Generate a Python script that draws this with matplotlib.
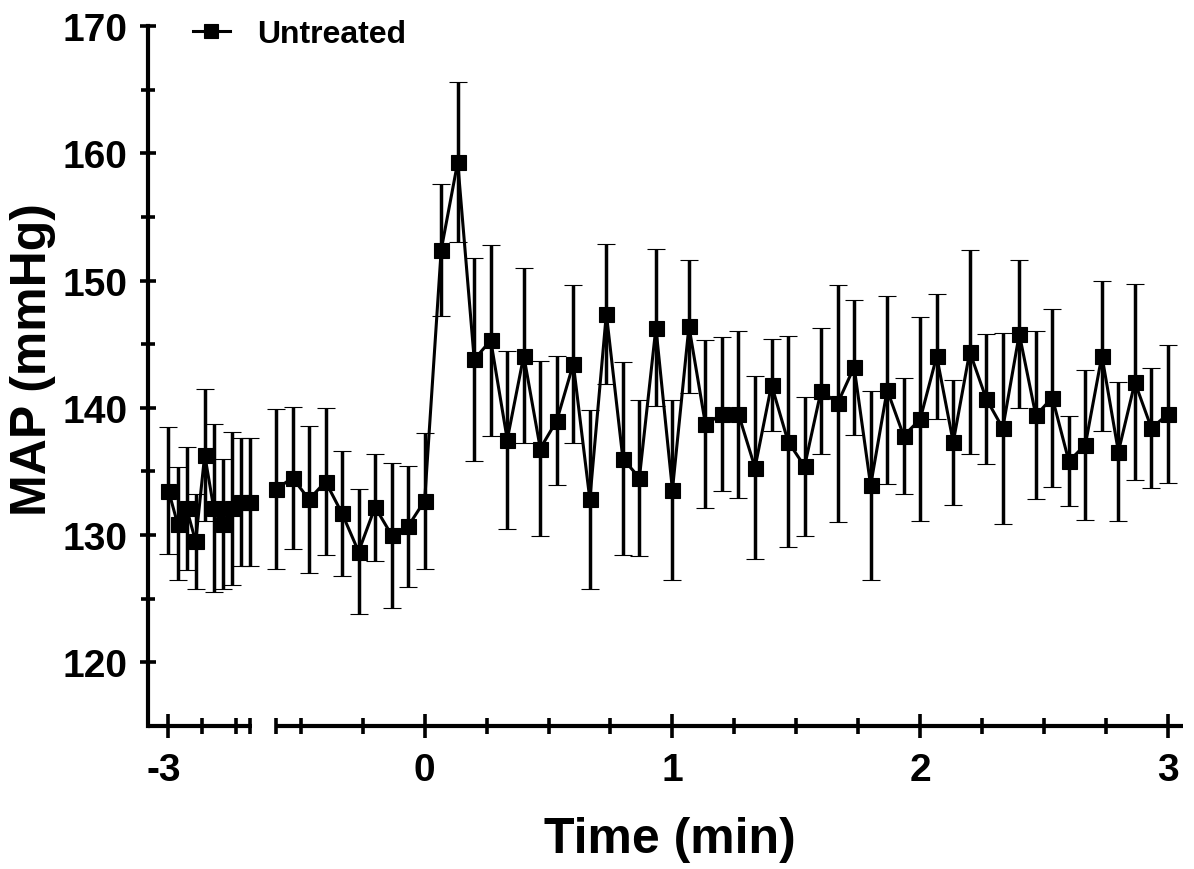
import matplotlib
matplotlib.use("Agg")
import matplotlib.pyplot as plt
from matplotlib.ticker import FixedLocator, NullFormatter
from matplotlib.transforms import ScaledTranslation

plt.rcParams['font.family'] = ['Liberation Sans', 'DejaVu Sans']
plt.rcParams['font.weight'] = 'bold'

# ---- data (time in seconds, MAP mean and SEM in mmHg) ----
series_label = "Untreated"

left_time_s = [-180, -176, -172, -168, -164, -160, -156, -152, -148, -144]
left_map = [133.5, 130.9, 132.1, 129.5, 136.3, 132.1, 130.9, 132.1, 132.6, 132.6]
left_sem = [5.0, 4.45, 4.85, 3.7, 5.2, 6.6, 5.1, 6.0, 5.0, 5.0]

right_time_s = [-36, -32, -28, -24, -20, -16, -12, -8, -4, 0,
                4, 8, 12, 16, 20, 24, 28, 32, 36, 40,
                44, 48, 52, 56, 60, 64, 68, 72, 76, 80,
                84, 88, 92, 96, 100, 104, 108, 112, 116, 120,
                124, 128, 132, 136, 140, 144, 148, 152, 156, 160,
                164, 168, 172, 176, 180]
right_map = [133.6, 134.5, 132.8, 134.2, 131.7, 128.7, 132.2, 130.0, 130.7, 132.7,
             152.4, 159.3, 143.8, 145.3, 137.5, 144.1, 136.8, 139.0, 143.45, 132.8,
             147.4, 136.0, 134.5, 146.3, 133.55, 146.4, 138.7, 139.5, 139.5, 135.3,
             141.8, 137.35, 135.4, 141.35, 140.35, 143.2, 133.9, 141.4, 137.8, 139.1,
             144.05, 137.3, 144.4, 140.7, 138.4, 145.8, 139.4, 140.8, 135.8, 137.1,
             144.1, 136.55, 142.0, 138.4, 139.5]
right_sem = [6.3, 5.6, 5.8, 5.8, 4.9, 4.9, 4.2, 5.7, 4.75, 5.35,
             5.2, 6.3, 7.95, 7.5, 7.0, 6.9, 6.9, 5.05, 6.2, 7.05,
             5.5, 7.6, 6.15, 6.15, 7.1, 5.25, 6.6, 6.05, 6.55, 7.2,
             3.6, 8.3, 5.45, 4.95, 9.3, 5.3, 7.45, 7.4, 4.55, 8.0,
             4.9, 4.9, 8.0, 5.1, 7.5, 5.8, 6.6, 7.0, 3.55, 5.9,
             5.9, 5.45, 7.7, 4.7, 5.4]

left_major = [-3]
left_major_labels = ['-3']
left_minor = [-2.75, -2.5, -2.4]
right_major = [0, 1, 2, 3]
right_minor = [-0.6, -0.5, -0.25, 0.25, 0.5, 0.75, 1.25, 1.5, 1.75,
               2.25, 2.5, 2.75]
y_major = [120, 130, 140, 150, 160, 170]
y_minor = [125, 135, 145, 155, 165]

left_t = [t / 60 for t in left_time_s]
right_t = [t / 60 for t in right_time_s]

# ---- figure layout ----
W, H = 1194, 870
fig = plt.figure(figsize=(W / 100, H / 100), dpi=100)
y_top, y_bot = 27, 727
x_l0, x_l1 = 148, 252
x_r0, x_r1 = 275, 1183
axL = fig.add_axes([x_l0 / W, 1 - y_bot / H, (x_l1 - x_l0) / W, (y_bot - y_top) / H])
axR = fig.add_axes([x_r0 / W, 1 - y_bot / H, (x_r1 - x_r0) / W, (y_bot - y_top) / H],
                   sharey=axL)

style = dict(color='black', marker='s', markersize=10.8, markeredgewidth=0.8,
             linewidth=2.2, elinewidth=2.5, capsize=6.4, capthick=2.6,
             clip_on=False, zorder=3)
axL.errorbar(left_t, left_map, yerr=left_sem, **style)
ebR = axR.errorbar(right_t, right_map, yerr=right_sem, **style)

axL.set_xlim(-3.0 - 20.5 / 136, -2.4 + 2.0 / 136)
axR.set_xlim(-0.6 - 1.0 / 247, 3.0 + 15.0 / 247)
axL.set_ylim(115, 170)

spine_lw = 3.0
for ax in (axL, axR):
    for s in ('top', 'right'):
        ax.spines[s].set_visible(False)
    ax.spines['bottom'].set_linewidth(spine_lw)
    ax.spines['left'].set_linewidth(spine_lw)
    ax.spines['bottom'].set_capstyle('butt')
    ax.patch.set_visible(False)
axR.spines['left'].set_visible(False)

# x ticks
axL.xaxis.set_major_locator(FixedLocator(left_major))
axL.xaxis.set_minor_locator(FixedLocator(left_minor))
axL.set_xticklabels(left_major_labels)
axR.xaxis.set_major_locator(FixedLocator(right_major))
axR.xaxis.set_minor_locator(FixedLocator(right_minor))
axR.set_xticklabels([str(v) for v in right_major])
for ax in (axL, axR):
    ax.xaxis.set_minor_formatter(NullFormatter())
    ax.tick_params(axis='x', which='major', direction='inout', length=17, width=2.6,
                   pad=10, labelsize=28)
    ax.tick_params(axis='x', which='minor', direction='inout', length=11, width=2.6)

# y ticks
axL.yaxis.set_major_locator(FixedLocator(y_major))
axL.yaxis.set_minor_locator(FixedLocator(y_minor))
axL.set_yticklabels([str(v) for v in y_major])
axL.tick_params(axis='y', which='major', direction='inout', length=12, width=2.6,
                pad=9, labelsize=28)
axL.tick_params(axis='y', which='minor', direction='inout', length=9.5, width=2.6)
axR.tick_params(axis='y', which='both', left=False, labelleft=False)

for lab in axL.get_xticklabels() + axR.get_xticklabels() + axL.get_yticklabels():
    lab.set_fontweight('bold')
for lab in axL.get_xticklabels():
    lab.set_transform(lab.get_transform() + ScaledTranslation(-5 / 100, 0, fig.dpi_scale_trans))

# axis titles
fig.text(670 / W, 1 - 840 / H, 'Time (min)', ha='center', va='center',
         fontsize=36, fontweight='bold')
fig.text(33 / W, 1 - 360 / H, 'MAP (mmHg)', ha='center', va='center',
         rotation=90, fontsize=36, fontweight='bold')

# legend
fig.legend([ebR[0]], [series_label], loc='center left',
           bbox_to_anchor=(193 / W, 1 - 35 / H), frameon=False,
           borderpad=0, borderaxespad=0, handlelength=1.15, handletextpad=0.85,
           prop={'size': 23, 'weight': 'bold'}, markerscale=0.9)

fig.savefig('out.png', dpi=100)
